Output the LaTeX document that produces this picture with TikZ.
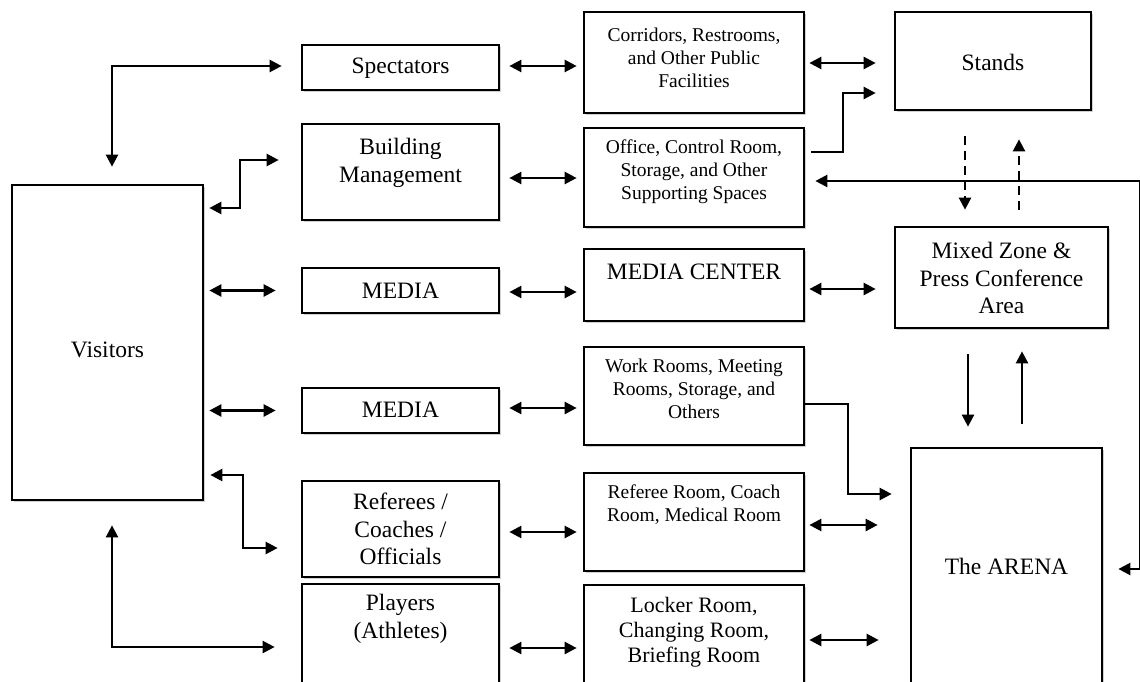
\documentclass[tikz,border=0pt]{standalone}
\usepackage{fontspec}
\setmainfont{Liberation Serif}
\usetikzlibrary{arrows.meta,shadows,calc}
\tikzset{
  box/.style={draw, line width=2.7pt, fill=white, inner sep=0pt,
    drop shadow={shadow xshift=1.5pt, shadow yshift=-2pt, opacity=0.3, fill=black!60}},
  big/.style={font=\fontsize{23.5}{27.5}\selectfont, align=center, inner sep=0pt},
  small/.style={font=\fontsize{19.5}{23}\selectfont, align=center, inner sep=0pt},
  mid/.style={font=\fontsize{22}{25}\selectfont, align=center, inner sep=0pt},
  conn/.style={line width=2.4pt},
  one/.style={conn, -{Triangle[length=12pt,width=12pt]}},
  two/.style={conn, {Triangle[length=12pt,width=12pt]}-{Triangle[length=12pt,width=12pt]}},
  dsh/.style={dash pattern=on 9pt off 6pt},
}
\begin{document}
\begin{tikzpicture}[x=1pt,y=-1pt]
\useasboundingbox (0,0) rectangle (1140,682);
\clip (0,0) rectangle (1140,682);
\fill[white] (0,0) rectangle (1140,682);

% boxes
\node[box, minimum width=191pt, minimum height=315pt] (vis) at (107.5,342.5) {};
\node[box, minimum width=197pt, minimum height=45pt] (spec) at (400.5,67.5) {};
\node[box, minimum width=197pt, minimum height=96pt] (bm) at (400.5,172) {};
\node[box, minimum width=197pt, minimum height=45pt] (m1) at (400.5,290.5) {};
\node[box, minimum width=197pt, minimum height=45pt] (m2) at (400.5,410.5) {};
\node[box, minimum width=197pt, minimum height=96pt] (ref) at (400.5,529) {};
\node[box, minimum width=197pt, minimum height=102pt] (pl) at (400.5,635) {};

\node[box, minimum width=220pt, minimum height=101pt] (corr) at (694,62.5) {};
\node[box, minimum width=220pt, minimum height=99pt] (off) at (694,177.5) {};
\node[box, minimum width=220pt, minimum height=72pt] (mc) at (694,285) {};
\node[box, minimum width=220pt, minimum height=98pt] (wr) at (694,396) {};
\node[box, minimum width=220pt, minimum height=98pt] (rr) at (694,522) {};
\node[box, minimum width=220pt, minimum height=101pt] (lk) at (694,635.5) {};

\node[box, minimum width=196pt, minimum height=98pt] (st) at (993,61) {};
\node[box, minimum width=213pt, minimum height=101pt] (mx) at (1001.5,277.5) {};
\node[box, minimum width=191pt, minimum height=238pt] (ar) at (1006.5,567) {};

% texts
\node[big] (tvis) at (107.5,350) {Visitors};
\node[big] (tspec) at (400.5,68) {Spectators};
\node[big] (tbm) at (400.5,163) {Building\\Management};
\node[big] (tm1) at (400.5,291) {MEDIA};
\node[big] (tm2) at (400.5,410) {MEDIA};
\node[big] (tref) at (400.5,529) {Referees /\\Coaches /\\Officials};
\node[big] (tpl) at (400.5,619) {Players\\(Athletes)};
\node[small] (tcorr) at (694,58) {Corridors, Restrooms,\\and Other Public\\Facilities};
\node[small] (toff) at (694,172) {Office, Control Room,\\Storage, and Other\\Supporting Spaces};
\node[big] (tmc) at (694,272) {MEDIA CENTER};
\node[small] (twr) at (694,389) {Work Rooms, Meeting\\Rooms, Storage, and\\Others};
\node[small] (trr) at (694,505) {Referee Room, Coach\\Room, Medical Room};
\node[mid] (tlk) at (694,632) {Locker Room,\\Changing Room,\\Briefing Room};
\node[big] (tst) at (993,62) {Stands};
\node[big] (tmx) at (1001.5,278) {Mixed Zone \&\\Press Conference\\Area};
\node[big] (tar) at (1006.5,566) {The ARENA};

% Visitors connectors
\draw[two, shorten <=17pt, shorten >=19pt] ([xshift=4.5pt]vis.north) |- (spec.west |- 0,66);
\draw[two, shorten <=5pt, shorten >=22pt] (vis.east |- 0,208) -- (240,208) |- ([yshift=12pt]bm.west);
\draw[two, shorten <=5pt, shorten >=25pt] (vis.east |- m1.west) -- (m1.west);
\draw[two, shorten <=5pt, shorten >=25pt] (vis.east |- m2.west) -- (m2.west);
\draw[two, shorten <=6pt, shorten >=23pt] (vis.east |- 0,475) -- (243,475) |- ([yshift=-19pt]ref.west);
\draw[two, shorten <=24pt, shorten >=26pt] ([xshift=4.5pt]vis.south) |- ([yshift=-12pt]pl.west);

% column 2 - column 3
\draw[two, shorten <=9pt, shorten >=6pt] (spec.east |- 0,66) -- (corr.west |- 0,66);
\draw[two, shorten <=9pt, shorten >=6pt] (bm.east |- 0,178) -- (off.west |- 0,178);
\draw[two, shorten <=9pt, shorten >=6pt] (m1.east |- 0,292) -- (mc.west |- 0,292);
\draw[two, shorten <=9pt, shorten >=6pt] (m2.east |- 0,408) -- (wr.west |- 0,408);
\draw[two, shorten <=9pt, shorten >=6pt] (ref.east |- 0,532) -- (rr.west |- 0,532);
\draw[two, shorten <=9pt, shorten >=6pt] (pl.east |- 0,648) -- (lk.west |- 0,648);

% column 3 - column 4
\draw[two, shorten <=4pt, shorten >=18pt] (corr.east |- 0,63) -- (st.west |- 0,63);
\draw[one, shorten <=6pt, shorten >=18pt] (off.east |- 0,152) -- (843,152) |- (st.west |- 0,93);
\draw[two, shorten <=15pt, shorten >=10pt] (ar.east |- 0,569) -- (1140.5,569) -- (1140.5,181) -- (off.east |- 0,181);
\draw[two, shorten <=4pt, shorten >=18pt] (mc.east |- 0,289) -- (mx.west |- 0,289);
\draw[one, shorten >=18pt] (wr.east |- 0,404) -- (848,404) |- (ar.west |- 0,494);
\draw[two, shorten <=4pt, shorten >=32pt] (rr.east |- 0,525) -- (ar.west |- 0,525);
\draw[two, shorten <=4pt, shorten >=31pt] (lk.east |- 0,640) -- (ar.west |- 0,640);

% vertical links
\draw[one, dsh, shorten <=25pt, shorten >=16pt] (st.south -| 965,0) -- (mx.north -| 965,0);
\draw[one, dsh, shorten <=16pt, shorten >=28pt] (mx.north -| 1019,0) -- (st.south -| 1019,0);
\draw[one, shorten <=25pt, shorten >=20pt] (mx.south -| 968,0) -- (ar.north -| 968,0);
\draw[one, shorten <=23pt, shorten >=22pt] (ar.north -| 1022,0) -- (mx.south -| 1022,0);
\end{tikzpicture}
\end{document}
